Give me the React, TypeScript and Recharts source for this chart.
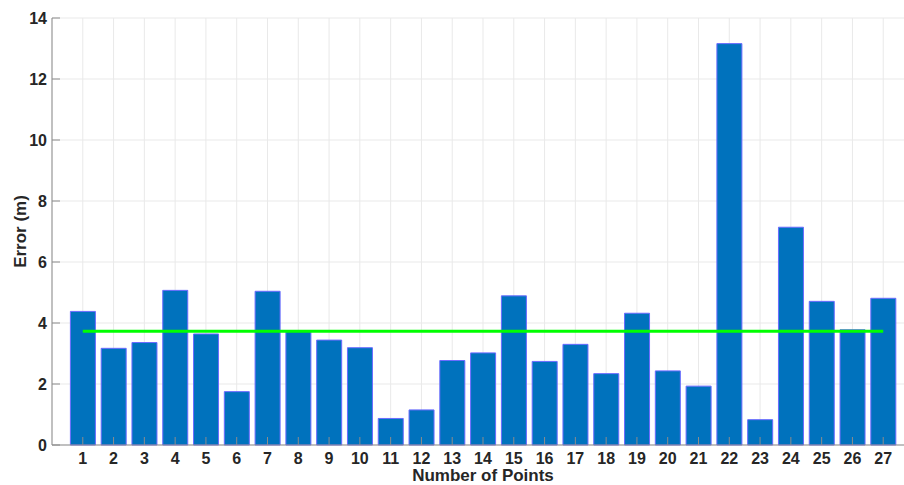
import { Bar, CartesianGrid, ComposedChart, Label, Line, XAxis, YAxis } from 'recharts';

// bar heights, one per point (1..27)
const POINTS = [
  1, 2, 3, 4, 5, 6, 7, 8, 9, 10, 11, 12, 13, 14, 15, 16, 17, 18, 19, 20, 21, 22, 23, 24, 25, 26, 27,
];
const ERRORS = [
  4.38, 3.17, 3.36, 5.07, 3.64, 1.75, 5.04, 3.72, 3.44, 3.19, 0.87, 1.15, 2.77, 3.02, 4.89, 2.74,
  3.3, 2.34, 4.32, 2.43, 1.93, 13.16, 0.83, 7.14, 4.71, 3.78, 4.81,
];
const MEAN_ERROR = 3.73;
const Y_TICKS = [0, 2, 4, 6, 8, 10, 12, 14];

const data = POINTS.map((p, i) => ({ x: p, err: ERRORS[i], mean: MEAN_ERROR }));

const TEXT = '#262626';
const AXIS = '#8c8c8c';
const FONT = '"Liberation Sans", Arial, sans-serif';

function BottomTick({ x, y, payload }: any) {
  return (
    <g>
      <line x1={x} y1={y} x2={x} y2={y - 8} stroke={AXIS} />
      <text x={x} y={y + 19} textAnchor="middle" fill={TEXT} fontSize={16} fontWeight="bold" fontFamily={FONT}>
        {payload.value}
      </text>
    </g>
  );
}

function TopTick({ x, y }: any) {
  return <line x1={x} y1={y} x2={x} y2={y + 8} stroke={AXIS} />;
}

function LeftTick({ x, y, payload }: any) {
  return (
    <g>
      <line x1={x} y1={y} x2={x + 8} y2={y} stroke={AXIS} />
      <text x={x - 5} y={y + 6} textAnchor="end" fill={TEXT} fontSize={16} fontWeight="bold" fontFamily={FONT}>
        {payload.value}
      </text>
    </g>
  );
}

function YTitle(props: any) {
  const vb = props.viewBox;
  const cy = vb.y + vb.height / 2;
  return (
    <text
      x={20}
      y={cy}
      transform={`rotate(-90, 20, ${cy})`}
      textAnchor="middle"
      dominantBaseline="central"
      fill={TEXT}
      fontSize={17}
      fontWeight="bold"
      fontFamily={FONT}
    >
      Error (m)
    </text>
  );
}

export default function App() {
  return (
    <div
      style={{
        position: 'fixed',
        left: 0,
        top: 0,
        width: 904,
        height: 485,
        overflow: 'hidden',
        background: '#fff',
      }}
    >
      <ComposedChart
        width={940}
        height={485}
        data={data}
        margin={{ top: 18, right: 26, bottom: 0, left: 0 }}
      >
        <CartesianGrid stroke="#e9e9e9" />
        <XAxis
          dataKey="x"
          type="number"
          domain={[0, 28]}
          ticks={POINTS}
          interval={0}
          height={40}
          tickSize={0}
          tickMargin={0}
          tickLine={false}
          axisLine={{ stroke: AXIS }}
          tick={<BottomTick />}
          allowDataOverflow
        >
          <Label
            value="Number of Points"
            position="insideBottom"
            offset={4}
            fill={TEXT}
            fontSize={17}
            fontWeight="bold"
            fontFamily={FONT}
          />
        </XAxis>
        <XAxis
          xAxisId="top"
          orientation="top"
          dataKey="x"
          type="number"
          domain={[0, 28]}
          ticks={POINTS}
          interval={0}
          height={0}
          tickSize={0}
          tickMargin={0}
          tickLine={false}
          axisLine={{ stroke: AXIS }}
          tick={<TopTick />}
          allowDataOverflow
        />
        <YAxis
          type="number"
          domain={[0, 14]}
          ticks={Y_TICKS}
          interval={0}
          width={52}
          tickSize={0}
          tickMargin={0}
          tickLine={false}
          axisLine={{ stroke: AXIS }}
          tick={<LeftTick />}
        >
          <Label content={<YTitle />} />
        </YAxis>
        <Bar
          dataKey="err"
          barSize={25}
          fill="#0072BD"
          stroke="#6b6bff"
          strokeWidth={1}
          isAnimationActive={false}
        />
        <Line
          dataKey="mean"
          stroke="#00ff00"
          strokeWidth={3}
          dot={false}
          activeDot={false}
          isAnimationActive={false}
        />
      </ComposedChart>
    </div>
  );
}
